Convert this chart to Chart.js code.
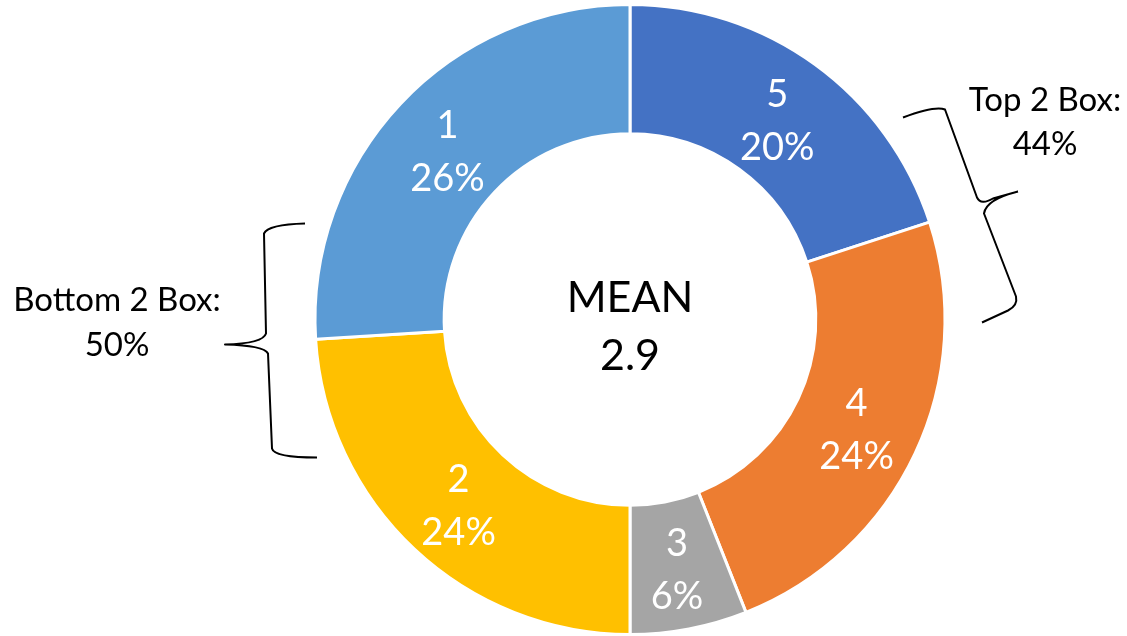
<!DOCTYPE html>
<html>
<head>
<meta charset="utf-8">
<script src="https://cdn.jsdelivr.net/npm/chart.js@4.4.0/dist/chart.umd.min.js"></script>
<style>
  html, body { margin: 0; padding: 0; background: #fff; }
  #wrap { width: 1127px; height: 636px; }
</style>
</head>
<body>
<div id="wrap"><canvas id="donut"></canvas></div>
<script>
// rating scale, clockwise from 12 o'clock
const ratings = ['5', '4', '3', '2', '1'];
const shares = [20, 24, 6, 24, 26];
const sliceColors = ['#4472C4', '#ED7D31', '#A5A5A5', '#FFC000', '#5B9BD5'];

const FONT = 'Lato, "Open Sans", sans-serif';

const top2 = shares[0] + shares[1];
const bottom2 = shares[3] + shares[4];
const mean = ratings.reduce((s, r, i) => s + Number(r) * shares[i], 0) /
  shares.reduce((a, b) => a + b, 0);

// white "rating / pct" label inside each slice
const sliceLabels = {
  id: 'sliceLabels',
  afterDatasetsDraw(chart) {
    const ctx = chart.ctx;
    const meta = chart.getDatasetMeta(0);
    ctx.save();
    ctx.fillStyle = '#fff';
    ctx.font = '38px ' + FONT;
    ctx.textAlign = 'center';
    ctx.textBaseline = 'middle';
    meta.data.forEach((arc, i) => {
      const p = arc.tooltipPosition();
      ctx.fillText(ratings[i], p.x, p.y - 22);
      ctx.fillText(shares[i] + '%', p.x, p.y + 31);
    });
    ctx.restore();
  }
};

// mean in the hole + the two brace callouts
const extras = {
  id: 'extras',
  afterDraw(chart) {
    const ctx = chart.ctx;
    const arc = chart.getDatasetMeta(0).data[0];
    const cx = arc.x, cy = arc.y;
    ctx.save();
    ctx.fillStyle = '#000';
    ctx.textAlign = 'center';
    ctx.textBaseline = 'middle';
    ctx.font = '43px ' + FONT;
    ctx.fillText('MEAN', cx, cy - 21);
    ctx.fillText(mean.toFixed(1), cx, cy + 37);

    ctx.font = '33px ' + FONT;
    ctx.fillText('Top 2 Box:', cx + 415, cy - 219);
    ctx.fillText(top2 + '%', cx + 415, cy - 175);
    ctx.fillText('Bottom 2 Box:', cx - 513, cy - 19);
    ctx.fillText(bottom2 + '%', cx - 513, cy + 26);

    ctx.strokeStyle = '#000';
    ctx.lineWidth = 2;
    ctx.lineJoin = 'round';
    ctx.translate(cx - 630, cy - 320);
    // right brace
    ctx.beginPath();
    ctx.moveTo(903, 118);
    ctx.quadraticCurveTo(935, 106, 945, 110);
    ctx.lineTo(977, 198);
    ctx.quadraticCurveTo(981, 206, 993, 199);
    ctx.lineTo(1018, 192);
    ctx.moveTo(1018, 192);
    ctx.quadraticCurveTo(986, 200, 984, 214);
    ctx.lineTo(1016, 297);
    ctx.quadraticCurveTo(1018, 306, 1008, 311);
    ctx.lineTo(982, 323);
    ctx.stroke();
    // left brace
    ctx.beginPath();
    ctx.moveTo(305, 224);
    ctx.quadraticCurveTo(268, 225, 264, 234);
    ctx.lineTo(266, 334);
    ctx.quadraticCurveTo(263, 344, 225, 345);
    ctx.quadraticCurveTo(264, 346, 268, 354);
    ctx.lineTo(272, 449);
    ctx.quadraticCurveTo(274, 458, 317, 458);
    ctx.stroke();
    ctx.restore();
  }
};

new Chart(document.getElementById('donut').getContext('2d'), {
  type: 'doughnut',
  data: {
    labels: ratings,
    datasets: [{
      data: shares,
      backgroundColor: sliceColors,
      borderColor: '#fff',
      borderWidth: 3
    }]
  },
  options: {
    responsive: true,
    maintainAspectRatio: false,
    animation: false,
    cutout: '59%',
    layout: { padding: { left: 133, right: 0, top: 3, bottom: 0 } },
    plugins: {
      legend: { display: false },
      tooltip: { enabled: false }
    }
  },
  plugins: [sliceLabels, extras]
});
</script>
</body>
</html>
